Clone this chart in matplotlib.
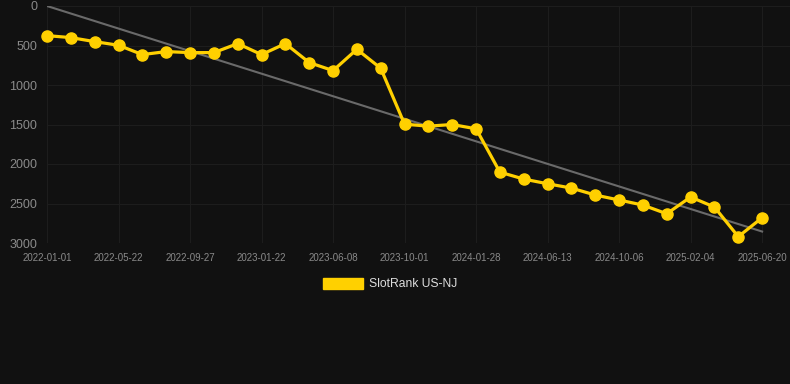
import matplotlib
matplotlib.use('Agg')
import matplotlib.pyplot as plt
from matplotlib.patches import Patch
import numpy as np

# Data (rank, lower is better -> inverted axis)
tick_labels = ['2022-01-01', '2022-05-22', '2022-09-27', '2023-01-22', '2023-06-08',
               '2023-10-01', '2024-01-28', '2024-06-13', '2024-10-06', '2025-02-04',
               '2025-06-20']
rank = [375, 400, 451, 497, 615, 577, 590, 590, 476, 615,
        476, 716, 818, 548, 788, 1496, 1521, 1500, 1555, 2103,
        2191, 2250, 2305, 2393, 2456, 2520, 2630, 2418, 2545, 2920,
        2680]
trend_ends = [0, 2855]

bg = '#111111'
yellow = '#FFD000'

plt.rcParams['font.family'] = ['Liberation Sans', 'DejaVu Sans']

fig = plt.figure(figsize=(7.9, 3.84), dpi=100, facecolor=bg)
ax = fig.add_axes([47 / 790, 1 - 243 / 384, 1 - 47 / 790, 237 / 384])
ax.set_facecolor(bg)

x = np.arange(len(rank))
ax.plot([x[0], x[-1]], trend_ends, color='#6a6a6a', lw=1.5, zorder=2)
ax.plot(x, rank, color=yellow, lw=2.3, marker='o', markersize=8,
        zorder=3, clip_on=False)

ax.set_ylim(3000, 0)
ax.set_xlim(0, 31.17)
ax.set_yticks([0, 500, 1000, 1500, 2000, 2500, 3000])
ax.set_xticks(x[::3])
ax.set_xticklabels(tick_labels)

ax.grid(True, color='#1d1d1d', lw=0.8)
ax.set_axisbelow(True)
for s in ax.spines.values():
    s.set_visible(False)
ax.tick_params(axis='y', length=0, pad=7, labelsize=9, labelcolor='#8a8a8a')
ax.tick_params(axis='x', length=0, pad=7, labelsize=7, labelcolor='#8a8a8a')

handle = Patch(facecolor=yellow, edgecolor=yellow)
fig.legend([handle], ['SlotRank US-NJ'], loc='center', bbox_to_anchor=(0.494, 1 - 284 / 384),
           frameon=False, fontsize=8.7, labelcolor='#dddddd',
           handlelength=3.3, handleheight=1.0, handletextpad=0.5)

fig.savefig('out.png', dpi=100, facecolor=bg)
